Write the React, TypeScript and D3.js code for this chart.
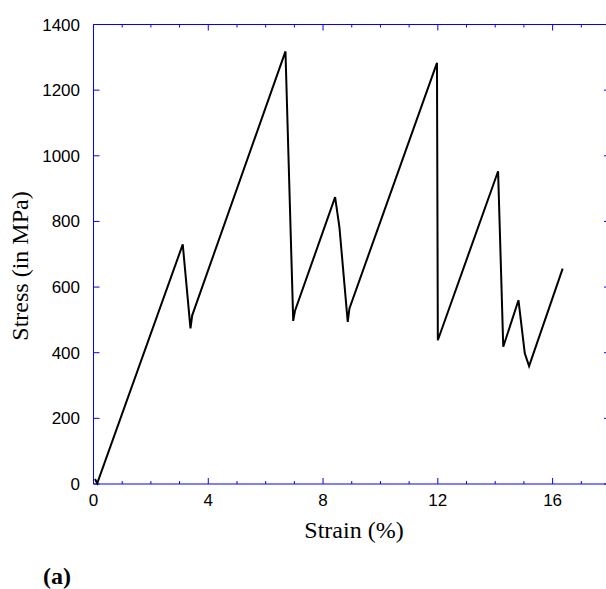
import React from "react";
import * as d3 from "d3";

const strain = [0.05, 0.13, 3.11, 3.38, 3.44, 6.69, 6.96, 7.02, 8.42, 8.57, 8.86, 8.92, 11.97, 12.0, 14.1, 14.28, 14.81, 15.03, 15.18, 16.35];
const stress = [15, 2, 730, 474, 514, 1318, 497, 527, 874, 783, 494, 535, 1283, 438, 953, 418, 560, 398, 359, 656];
const xMajorTicks = [0, 4, 8, 12, 16];
const xMinorTicks = [1, 2, 3, 5, 6, 7, 9, 10, 11, 13, 14, 15, 17];
const yTicks = [0, 200, 400, 600, 800, 1000, 1200, 1400];

const W = 606;
const H = 589;

export default function App() {
  const x = d3.scaleLinear().domain([0, 18]).range([93.5, 610]);
  const y = d3.scaleLinear().domain([0, 1400]).range([484, 24.5]);
  const pts = strain.map((s, i) => [s, stress[i]] as [number, number]);
  const line = d3
    .line<[number, number]>()
    .x((d) => x(d[0]))
    .y((d) => y(d[1]));
  const blue = "#0000ff";
  const left = x(0);
  const right = x(18);
  const top = y(1400);
  const bottom = y(0);
  return (
    <svg
      width={W}
      height={H}
      style={{ position: "absolute", left: 0, top: 0, background: "#fff" }}
    >
      <rect x={0} y={0} width={W} height={H} fill="#fff" />
      {/* axes frame */}
      <line x1={left} x2={right} y1={top} y2={top} stroke={blue} strokeWidth={1} />
      <line x1={left} x2={left} y1={top} y2={bottom} stroke={blue} strokeWidth={1} />
      <line x1={right} x2={right} y1={top} y2={bottom} stroke={blue} strokeWidth={1} />
      <line x1={left} x2={right} y1={bottom} y2={bottom} stroke={blue} strokeWidth={1} />
      {/* x ticks */}
      {xMajorTicks.map((t) => (
        <g key={"xM" + t}>
          <line x1={x(t)} x2={x(t)} y1={bottom} y2={bottom - 6} stroke={blue} />
          <line x1={x(t)} x2={x(t)} y1={top} y2={top + 6} stroke={blue} />
          <text
            x={x(t)}
            y={506}
            textAnchor="middle"
            fontFamily="'Liberation Sans', Arial, sans-serif"
            fontSize={17}
            fill="#000"
          >
            {t}
          </text>
        </g>
      ))}
      {xMinorTicks.map((t) => (
        <g key={"xm" + t}>
          <line x1={x(t)} x2={x(t)} y1={bottom} y2={bottom - 3} stroke={blue} />
          <line x1={x(t)} x2={x(t)} y1={top} y2={top + 3} stroke={blue} />
        </g>
      ))}
      {/* y ticks */}
      {yTicks.map((t) => (
        <g key={"y" + t}>
          <line x1={left} x2={left + 6} y1={y(t)} y2={y(t)} stroke={blue} />
          <line x1={right} x2={right - 6} y1={y(t)} y2={y(t)} stroke={blue} />
          <text
            x={80}
            y={y(t) + 6}
            textAnchor="end"
            fontFamily="'Liberation Sans', Arial, sans-serif"
            fontSize={17}
            fill="#000"
          >
            {t}
          </text>
        </g>
      ))}
      {/* data line */}
      <path
        d={line(pts) || ""}
        fill="none"
        stroke="#000"
        strokeWidth={2}
        strokeLinejoin="miter"
      />
      {/* axis titles */}
      <text
        x={354}
        y={538}
        textAnchor="middle"
        fontFamily="'Liberation Serif', 'Times New Roman', serif"
        fontSize={24}
        fill="#000"
      >
        Strain (%)
      </text>
      <text
        transform={`translate(28, 266) rotate(-90)`}
        textAnchor="middle"
        fontFamily="'Liberation Serif', 'Times New Roman', serif"
        fontSize={24}
        fill="#000"
      >
        Stress (in MPa)
      </text>
      <text
        x={43}
        y={584}
        fontFamily="'Liberation Serif', 'Times New Roman', serif"
        fontSize={24}
        fontWeight="bold"
        fill="#000"
      >
        (a)
      </text>
    </svg>
  );
}
